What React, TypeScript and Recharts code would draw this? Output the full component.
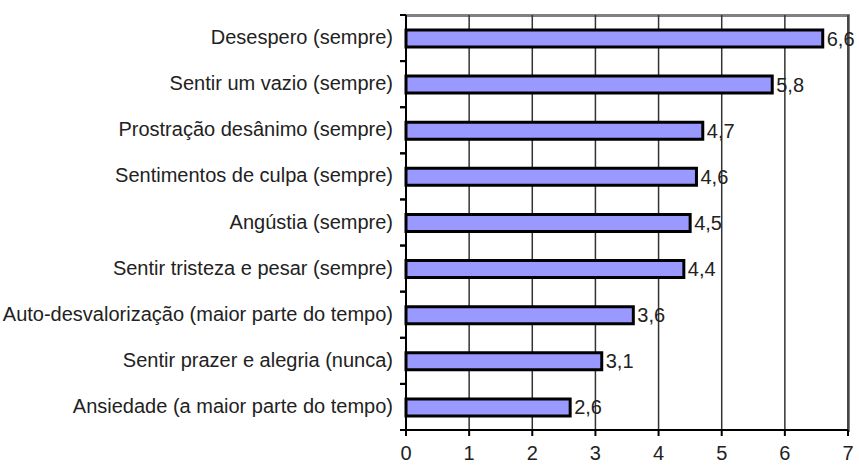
import React from "react";
import {
  BarChart,
  Bar,
  XAxis,
  YAxis,
  CartesianGrid,
  LabelList,
} from "recharts";

const CATEGORIES = [
  "Desespero (sempre)",
  "Sentir um vazio (sempre)",
  "Prostração desânimo (sempre)",
  "Sentimentos de culpa (sempre)",
  "Angústia (sempre)",
  "Sentir tristeza e pesar (sempre)",
  "Auto-desvalorização (maior parte do tempo)",
  "Sentir prazer e alegria (nunca)",
  "Ansiedade (a maior parte do tempo)",
];
const VALUES = [6.6, 5.8, 4.7, 4.6, 4.5, 4.4, 3.6, 3.1, 2.6];
const X_TICKS = [0, 1, 2, 3, 4, 5, 6, 7];

const data = CATEGORIES.map((name, i) => ({ name, value: VALUES[i] }));

const W = 859;
const H = 469;
const PLOT_LEFT = 406;
const PLOT_RIGHT = 848;
const PLOT_TOP = 15;
const PLOT_BOTTOM = 430;
const BAND = (PLOT_BOTTOM - PLOT_TOP) / CATEGORIES.length;
const FONT = "'Liberation Sans', Arial, sans-serif";

function CategoryTick({ x, y, payload }: any) {
  return (
    <g>
      <text x={x} y={y} dy={6} textAnchor="end" fontSize={20} fill="#222" fontFamily={FONT}>
        {payload.value}
      </text>
      <line x1={PLOT_LEFT - 6} x2={PLOT_LEFT} y1={y - BAND / 2} y2={y - BAND / 2} stroke="#000" strokeWidth={2} />
      <line x1={PLOT_LEFT - 6} x2={PLOT_LEFT} y1={y + BAND / 2} y2={y + BAND / 2} stroke="#000" strokeWidth={2} />
    </g>
  );
}

export default function App() {
  return (
    <div style={{ position: "absolute", left: 0, top: 0, width: W, height: H, background: "#fff" }}>
      {/* gray frame on the top and right edges of the plot, behind the chart */}
      <div
        style={{
          position: "absolute",
          left: PLOT_LEFT,
          top: PLOT_TOP - 1,
          width: PLOT_RIGHT - PLOT_LEFT - 1,
          height: PLOT_BOTTOM - PLOT_TOP,
          borderTop: "3px solid #808080",
          borderRight: "3px solid #808080",
        }}
      />
      <div style={{ position: "absolute", left: 0, top: 0 }}>
        <BarChart
          width={W}
          height={H}
          data={data}
          layout="vertical"
          margin={{ top: PLOT_TOP, right: W - PLOT_RIGHT, bottom: H - PLOT_BOTTOM - 36, left: 0 }}
          barCategoryGap={0}
        >
          <CartesianGrid horizontal={false} stroke="#333" strokeWidth={1.5} />
          <XAxis
            type="number"
            domain={[0, 7]}
            ticks={X_TICKS}
            interval={0}
            height={36}
            axisLine={{ stroke: "#000", strokeWidth: 2 }}
            tickLine={{ stroke: "#000", strokeWidth: 2 }}
            tickSize={6}
            tickMargin={10}
            tick={{ fontSize: 20, fill: "#222", fontFamily: FONT }}
          />
          <YAxis
            type="category"
            dataKey="name"
            width={PLOT_LEFT}
            interval={0}
            axisLine={{ stroke: "#000", strokeWidth: 2 }}
            tickLine={false}
            tickSize={6}
            tickMargin={7}
            tick={<CategoryTick />}
          />
          <Bar
            dataKey="value"
            fill="#9999ff"
            stroke="#000"
            strokeWidth={3}
            barSize={17}
            isAnimationActive={false}
          >
            <LabelList
              dataKey="value"
              position="right"
              offset={4}
              formatter={(v: any) => String(v).replace(".", ",")}
              style={{ fontSize: 20, fill: "#222", fontFamily: FONT }}
            />
          </Bar>
        </BarChart>
      </div>
    </div>
  );
}
